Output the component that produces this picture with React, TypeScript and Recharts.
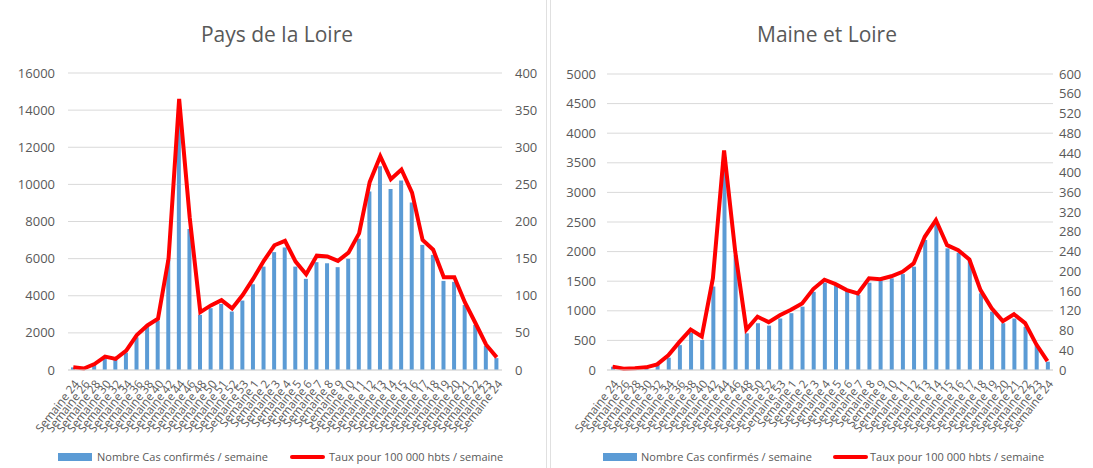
import React from "react";
import { ComposedChart, Bar, Line, XAxis, YAxis, CartesianGrid } from "recharts";

// Pays de la Loire
const leftWeeks = [
  "Semaine 24", "Semaine 26", "Semaine 28", "Semaine 30", "Semaine 32", "Semaine 34",
  "Semaine 36", "Semaine 38", "Semaine 40", "Semaine 42", "Semaine 44", "Semaine 46",
  "Semaine 48", "Semaine 50", "Semaine 51", "Semaine 52", "Semaine 53",
  "Semaine 1", "Semaine 2", "Semaine 3", "Semaine 4", "Semaine 5", "Semaine 6",
  "Semaine 7", "Semaine 8", "Semaine 9", "Semaine 10", "Semaine 11", "Semaine 12",
  "Semaine 13", "Semaine 14", "Semaine 15", "Semaine 16", "Semaine 17", "Semaine 18",
  "Semaine 19", "Semaine 20", "Semaine 21", "Semaine 22", "Semaine 23", "Semaine 24",
];
const leftCases = [
  140, 80, 270, 660, 540, 935, 1760, 2340, 2660, 5930, 13800, 7600, 2970, 3330, 3560,
  3150, 3740, 4620, 5570, 6350, 6600, 5570, 4910, 5810, 5750, 5540, 5990, 7070, 9620,
  10970, 9750, 10210, 9030, 6740, 6200, 4800, 4750, 3500, 2430, 1300, 640,
];
const leftRate = [
  3.6, 2, 8, 18, 15, 26, 47, 60, 69, 150, 365, 205, 78, 87, 94, 83, 101, 123, 147, 168,
  174, 146, 129, 154, 153, 147, 158, 184, 253, 288, 257, 270, 239, 175, 162, 125, 125,
  91, 63, 34, 17,
];
const leftCaseTicks = [0, 2000, 4000, 6000, 8000, 10000, 12000, 14000, 16000];
const leftRateTicks = [0, 50, 100, 150, 200, 250, 300, 350, 400];

// Maine et Loire
const rightWeeks = [
  "Semaine 24", "Semaine 26", "Semaine 28", "Semaine 30", "Semaine 32", "Semaine 34",
  "Semaine 36", "Semaine 38", "Semaine 40", "Semaine 42", "Semaine 44", "Semaine 46",
  "Semaine 48", "Semaine 50", "Semaine 52", "Semaine 53",
  "Semaine 1", "Semaine 2", "Semaine 3", "Semaine 4", "Semaine 5", "Semaine 6",
  "Semaine 7", "Semaine 8", "Semaine 9", "Semaine 10", "Semaine 11", "Semaine 12",
  "Semaine 13", "Semaine 14", "Semaine 15", "Semaine 16", "Semaine 17", "Semaine 18",
  "Semaine 19", "Semaine 20", "Semaine 21", "Semaine 22", "Semaine 23", "Semaine 24",
];
const rightCases = [
  55, 22, 28, 44, 90, 208, 420, 630, 507, 1410, 3600, 1940, 620, 790, 750, 870, 960,
  1070, 1320, 1475, 1435, 1350, 1267, 1475, 1520, 1548, 1620, 1745, 2195, 2465, 2055,
  1980, 1860, 1295, 985, 790, 870, 730, 420, 140,
];
const rightRate = [
  6.8, 2.7, 3.4, 5.4, 11.5, 30, 57, 82, 68, 186, 445, 240, 82, 108, 97, 111, 122, 135,
  164, 183, 174, 162, 155, 186, 184, 190, 199, 216, 270, 304, 253, 243, 224, 162, 125,
  99, 113, 95, 52, 18,
];
const rightCaseTicks = [0, 500, 1000, 1500, 2000, 2500, 3000, 3500, 4000, 4500, 5000];
const rightRateTicks = [
  0, 40, 80, 120, 160, 200, 240, 280, 320, 360, 400, 440, 480, 520, 560, 600,
];

const barLabel = "Nombre Cas confirmés / semaine";
const lineLabel = "Taux pour 100 000 hbts / semaine";

const FONT = "'Open Sans', 'Liberation Sans', sans-serif";
const GREY = "#595959";

type PanelProps = {
  title: string;
  titleShift: number;
  weeks: string[];
  cases: number[];
  rate: number[];
  caseTicks: number[];
  rateTicks: number[];
  width: number;
  leftW: number;
  rightW: number;
  leftMargin: number;
  rightMargin: number;
  top: number;
  legendX: number[];
};

function Panel(p: PanelProps) {
  const data = p.weeks.map((w, i) => ({ week: w, cases: p.cases[i], rate: p.rate[i] }));
  const tickStyle = { fontSize: 13, fill: GREY, fontFamily: FONT };
  return (
    <div style={{ position: "relative", width: p.width, height: 468 }}>
      <div
        style={{
          position: "absolute",
          top: 20,
          left: p.titleShift,
          width: p.width,
          textAlign: "center",
          fontFamily: FONT,
          fontSize: 21,
          color: GREY,
        }}
      >
        {p.title}
      </div>
      <ComposedChart
        width={p.width}
        height={468}
        data={data}
        margin={{ top: p.top, right: 0, left: 0, bottom: 38 }}
      >
        <CartesianGrid yAxisId="cases" vertical={false} stroke="#d9d9d9" />
        <XAxis
          dataKey="week"
          interval={0}
          height={60}
          tickLine={false}
          axisLine={{ stroke: "#d9d9d9" }}
          tickMargin={3}
          tick={{ angle: -52, textAnchor: "end", fontSize: 11.5, fill: GREY, fontFamily: FONT }}
        />
        <YAxis
          yAxisId="cases"
          orientation="left"
          width={p.leftW}
          domain={[0, p.caseTicks[p.caseTicks.length - 1]]}
          ticks={p.caseTicks}
          interval={0}
          tickSize={0}
          tickMargin={p.leftMargin}
          axisLine={false}
          tickLine={false}
          tick={tickStyle}
        />
        <YAxis
          yAxisId="rate"
          orientation="right"
          width={p.rightW}
          domain={[0, p.rateTicks[p.rateTicks.length - 1]]}
          ticks={p.rateTicks}
          interval={0}
          tickSize={0}
          tickMargin={p.rightMargin}
          axisLine={false}
          tickLine={false}
          tick={tickStyle}
        />
        <Bar yAxisId="cases" dataKey="cases" fill="#5b9bd5" barSize={4} isAnimationActive={false} />
        <Line
          yAxisId="rate"
          dataKey="rate"
          type="linear"
          stroke="#ff0000"
          strokeWidth={4}
          dot={false}
          activeDot={false}
          isAnimationActive={false}
        />
      </ComposedChart>
      <div style={{ position: "absolute", top: 450, left: 0, fontFamily: FONT, fontSize: 11, color: GREY }}>
        <span style={{ position: "absolute", left: p.legendX[0], top: 3, width: 34, height: 8, background: "#5b9bd5" }} />
        <span style={{ position: "absolute", left: p.legendX[1], top: -1, whiteSpace: "nowrap" }}>{barLabel}</span>
        <span style={{ position: "absolute", left: p.legendX[2], top: 5, width: 35, height: 4, background: "#ff0000", borderRadius: 2 }} />
        <span style={{ position: "absolute", left: p.legendX[3], top: -1, whiteSpace: "nowrap" }}>{lineLabel}</span>
      </div>
    </div>
  );
}

export default function App() {
  return (
    <div style={{ position: "relative", width: 1093, height: 468, background: "#fff", overflow: "hidden" }}>
      <style>{`body{margin:0}`}</style>
      <div style={{ position: "absolute", left: 0, top: 0, borderRight: "1px solid #e0e0e0" }}>
        <Panel
          title="Pays de la Loire"
          titleShift={4}
          weeks={leftWeeks}
          cases={leftCases}
          rate={leftRate}
          caseTicks={leftCaseTicks}
          rateTicks={leftRateTicks}
          width={546}
          leftW={68}
          rightW={44}
          leftMargin={13}
          rightMargin={13}
          top={73}
          legendX={[58, 97, 290, 329]}
        />
      </div>
      <div style={{ position: "absolute", left: 550, top: 0, borderLeft: "1px solid #e0e0e0" }}>
        <Panel
          title="Maine et Loire"
          titleShift={5}
          weeks={rightWeeks}
          cases={rightCases}
          rate={rightRate}
          caseTicks={rightCaseTicks}
          rateTicks={rightRateTicks}
          width={542}
          leftW={56}
          rightW={40}
          leftMargin={11}
          rightMargin={6}
          top={74}
          legendX={[52, 90, 282, 319]}
        />
      </div>
    </div>
  );
}
